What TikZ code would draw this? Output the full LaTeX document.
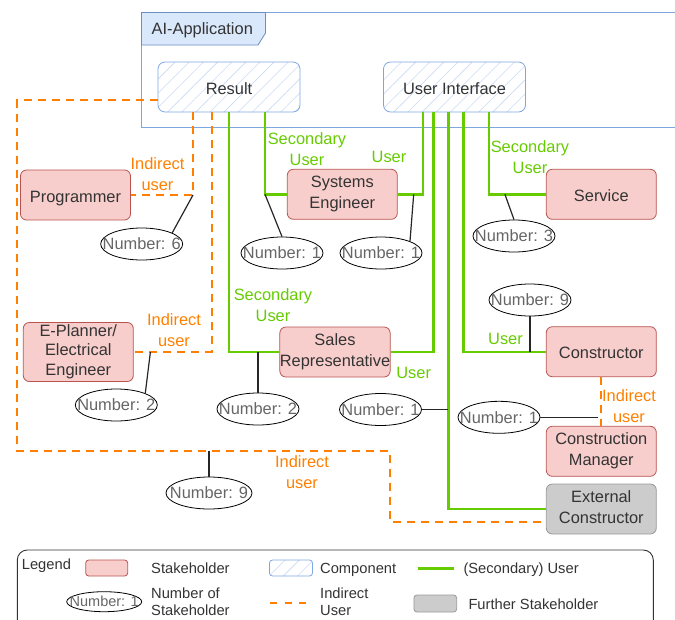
\documentclass[tikz,border=0pt]{standalone}
\usepackage{fontspec}
\setmainfont{Liberation Sans}
\usetikzlibrary{shapes.geometric,patterns.meta,calc}

\definecolor{stkfill}{HTML}{F8CECC}
\definecolor{stkline}{HTML}{B85450}
\definecolor{cmpline}{HTML}{7EA6E0}
\definecolor{tabfill}{HTML}{DAE8FC}
\definecolor{tabline}{HTML}{6C8EBF}
\definecolor{hatchc}{HTML}{C9DAF2}
\definecolor{usrgreen}{HTML}{66CC00}
\definecolor{indorange}{HTML}{FF8000}
\definecolor{txtc}{HTML}{333333}
\definecolor{numtxt}{HTML}{666666}
\definecolor{extfill}{HTML}{CCCCCC}
\definecolor{extline}{HTML}{999999}

\newcommand\mainsz{\fontsize{16.4}{20.8}\selectfont}
\newcommand\legsz{\fontsize{14.7}{17.2}\selectfont}
\newcommand\numlbl[1]{\makebox[0pt]{Number: #1}}

\begin{document}
\begin{tikzpicture}[x=1pt,y=-1pt,
  strutted/.style={execute at begin node={\rule[-4pt]{0pt}{22pt}},
    execute at end node={\rule[-4pt]{0pt}{4pt}}},
  boxbase/.style={rectangle, rounded corners=6pt, line width=0.8pt,
    inner xsep=0pt, inner ysep=0pt, align=center, text=txtc, font=\mainsz},
  stake/.style={boxbase, strutted, draw=stkline, fill=stkfill,
    minimum width=110pt, minimum height=50pt},
  further/.style={stake, draw=extline, fill=extfill},
  hatched/.style={draw=cmpline,
    pattern={Lines[angle=45,distance=10pt,line width=0.6pt]}, pattern color=hatchc},
  comp/.style={boxbase, strutted, hatched, rounded corners=7pt,
    minimum width=142pt, minimum height=50pt},
  num/.style={ellipse, draw=black, line width=0.8pt, fill=white,
    minimum width=82pt, minimum height=32pt, inner sep=0pt, text=numtxt, font=\mainsz},
  usr/.style={draw=usrgreen, line width=2.4pt},
  ind/.style={draw=indorange, line width=2pt, dash pattern=on 8pt off 6pt},
  cnt/.style={draw=black!85, line width=1.2pt},
  glab/.style={text=usrgreen, font=\mainsz, align=center, inner sep=0pt},
  olab/.style={text=indorange, font=\mainsz, align=center, inner sep=0pt},
  ltext/.style={text=txtc, font=\legsz, inner sep=0pt, anchor=west, align=left}]

\useasboundingbox (0,0) rectangle (675,619);

% application frame with its title tab
\draw[draw=cmpline, line width=0.8pt] (690,12.5) -- (141.5,12.5) -- (141.5,127.5) -- (690,127.5);
\draw[draw=tabline, fill=tabfill, line width=0.8pt]
  (141.5,12.5) -- (265.5,12.5) -- (265.5,33) -- (258,45) -- (141.5,45) -- cycle;
\node[anchor=west, text=txtc, font=\mainsz, inner sep=0pt] (apptitle) at (151.5,29.8) {AI-Application};

% components
\node[comp] (res) at (229,87) {Result};
\node[comp] (ui) at (454.5,87) {User Interface};

% stakeholders
\node[stake] (prog) at (75.5,195) {Programmer};
\node[stake] (se) at (342.3,194.3) {Systems\\Engineer};
\node[stake] (serv) at (601.3,194.3) {Service};
\node[stake, minimum height=59pt, font=\fontsize{16.4}{19.7}\selectfont] (epl) at (78.3,352)
  {E-Planner/\\Electrical\\Engineer};
\node[stake] (sales) at (335,352) {Sales\\Representative};
\node[stake] (con) at (601.3,351.7) {Constructor};
\node[stake] (cm) at (601.3,451.3) {Construction\\Manager};
\node[further] (ext) at (601.3,509) {External\\Constructor};

% head counts
\node[num] (n6) at (141.7,244) {\numlbl{6}};
\node[num] (n1a) at (282,253) {\numlbl{1}};
\node[num] (n1b) at (381,253) {\numlbl{1}};
\node[num] (n3) at (514,236) {\numlbl{3}};
\node[num] (n9a) at (530,300) {\numlbl{9}};
\node[num] (n2a) at (116.3,405) {\numlbl{2}};
\node[num] (n2b) at (258,409) {\numlbl{2}};
\node[num] (n1c) at (380.5,409.5) {\numlbl{1}};
\node[num] (n1d) at (499,417.3) {\numlbl{1}};
\node[num, minimum width=86pt] (n9b) at (209,493) {\numlbl{9}};

% indirect users
\coordinate (jbot) at (17,451);
\coordinate (jbend) at (390,451);
\draw[ind] ([yshift=12pt]res.south west) -| (jbot) -- (jbend) |- ([yshift=-13pt]ext.west);
\draw[ind] ([xshift=-36pt]res.south) |- coordinate[pos=0.5] (jprog) (prog.east);
\draw[ind] ([xshift=-17.5pt]res.south) |- (epl.east);
\draw[ind] (con.south) -- (cm.north);

% (secondary) users
\draw[usr] (res.south) |- (sales.west);
\draw[usr] ([xshift=36pt]res.south) |- coordinate[pos=0.5] (jse) (se.west);
\draw[usr] ([xshift=-31.8pt]ui.south) |- (se.east);
\draw[usr] ([xshift=-21.2pt]ui.south) |- (sales.east);
\draw[usr] ([xshift=-6.2pt]ui.south) |- coordinate[pos=0.5] (jext) (ext.west);
\draw[usr] ([xshift=8.8pt]ui.south) |- (con.west);
\draw[usr] ([xshift=34.2pt]ui.south) |- (serv.west);

% links to the head counts
\draw[cnt] (jprog) -- (n6.20);
\draw[cnt] (jse) -- (n1a.north);
\draw[cnt] ([xshift=16pt]se.east) -- (n1b.22);
\draw[cnt] ([xshift=-41pt]serv.west) -- (n3.north);
\draw[cnt] (n9a.south) -- (n9a.south |- con.west);
\draw[cnt] ([xshift=16.7pt]epl.east) -- (n2a.22);
\draw[cnt] (n2b.north) -- (n2b.north |- sales.west);
\draw[cnt] (n1c.east) -- (n1c.east -| jext);
\draw[cnt] (n1d.east) -- ($(n1d.east -| cm.north)+(-3,0)$);
\draw[cnt] (n9b.north) -- (n9b.north |- jbot);

% relation labels
\node[glab] (lse1) at (307,149) {Secondary\\User};
\node[glab] (lse2) at (389,157) {User};
\node[glab] (lserv) at (530,157) {Secondary\\User};
\node[glab] (lsal1) at (273,305) {Secondary\\User};
\node[glab] (lsal2) at (413.7,373) {User};
\node[glab] (lcon) at (505.5,339) {User};
\node[olab] (lprog) at (157.5,174) {Indirect\\user};
\node[olab] (lepl) at (174,330) {Indirect\\user};
\node[olab] (lcm) at (629,406) {Indirect\\user};
\node[olab] (lext) at (302,472) {Indirect\\user};

% legend
\draw[draw=txtc, line width=0.9pt, rounded corners=10pt] (17.3,550) rectangle (653.3,660);
\node[ltext] (lg0) at (21.7,565.6) {Legend};
\node[boxbase, draw=stkline, fill=stkfill, minimum width=42pt, minimum height=16pt,
  rounded corners=3pt] (lgstake) at (106.7,568) {};
\node[ltext] (lg1) at (151,568.4) {Stakeholder};
\node[boxbase, hatched, minimum width=43pt, minimum height=16pt,
  rounded corners=3pt] (lgcomp) at (291,568) {};
\node[ltext] (lg2) at (320,569.5) {Component};
\coordinate (lgu1) at (418.3,568.3);
\coordinate (lgu2) at (454,568.3);
\draw[usr] (lgu1) -- (lgu2);
\node[ltext] (lg3) at (463.3,569.5) {(Secondary) User};
\node[num, minimum width=75pt, minimum height=20pt, font=\fontsize{14.5}{16}\selectfont]
  (lgnum) at (104.2,601.7) {\numlbl{1}};
\node[ltext] (lg4) at (151,601.6) {Number of\\Stakeholder};
\coordinate (lgi1) at (270,603.3);
\coordinate (lgi2) at (306.7,603.3);
\draw[ind, dash pattern=on 7pt off 7.7pt] (lgi1) -- (lgi2);
\node[ltext] (lg5) at (320,601.6) {Indirect\\User};
\node[boxbase, draw=extline, fill=extfill, minimum width=42.7pt, minimum height=17pt,
  rounded corners=3pt] (lgfur) at (435.3,603.5) {};
\node[ltext] (lg6) at (468.3,604.5) {Further Stakeholder};
\end{tikzpicture}
\end{document}
